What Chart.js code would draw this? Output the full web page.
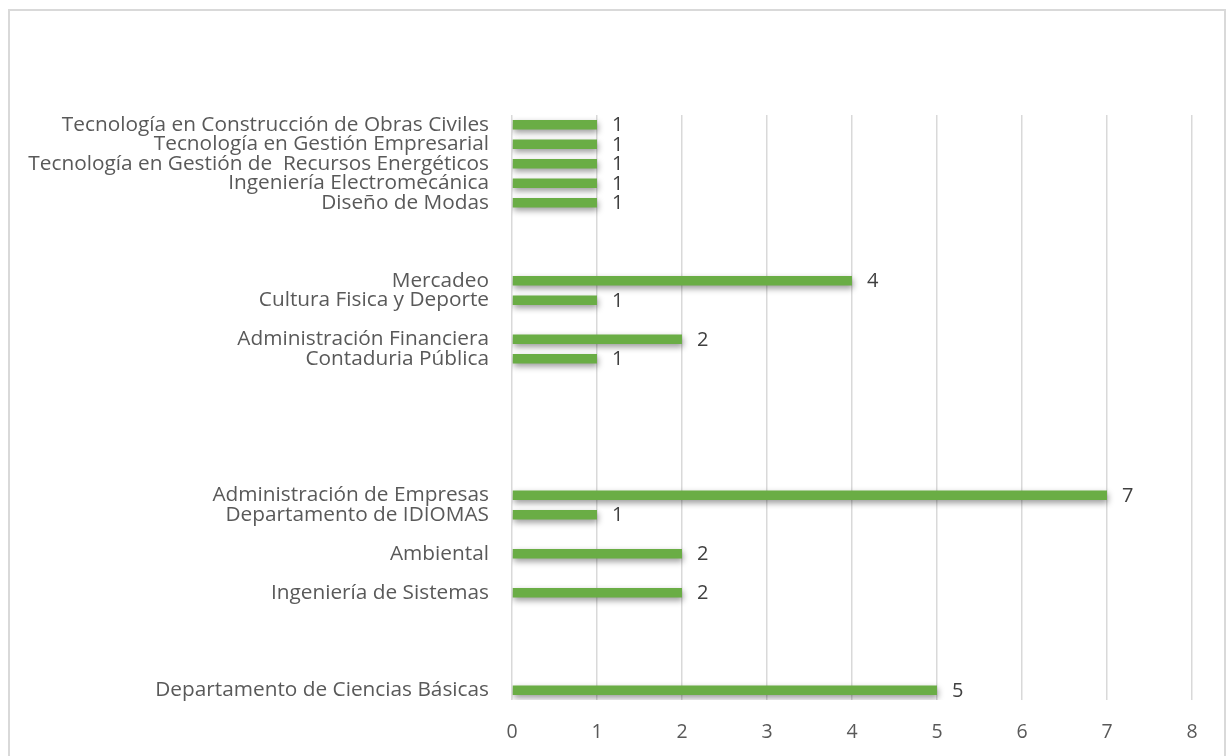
<!DOCTYPE html>
<html>
<head>
<meta charset="utf-8">
<script src="https://cdn.jsdelivr.net/npm/chart.js@4/dist/chart.umd.min.js"></script>
<style>
  html, body { margin: 0; padding: 0; background: #ffffff; }
  #wrap { position: relative; width: 1230px; height: 756px; }
  #frame { position: absolute; left: 8px; top: 9px; width: 1218px; height: 760px; border: 2px solid #d9d9d9; box-sizing: border-box; }
  canvas { position: absolute; left: 0; top: 0; }
</style>
</head>
<body>
<div id="wrap">
  <div id="frame"></div>
  <canvas id="c" width="1230" height="756"></canvas>
</div>
<script>
const categories = [
  "Tecnología en Construcción de Obras Civiles",
  "Tecnología en Gestión Empresarial",
  "Tecnología en Gestión de  Recursos Energéticos",
  "Ingeniería Electromecánica",
  "Diseño de Modas",
  "", "", "",
  "Mercadeo",
  "Cultura Fisica y Deporte",
  "",
  "Administración Financiera",
  "Contaduria Pública",
  "", "", "", "", "", "",
  "Administración de Empresas",
  "Departamento de IDIOMAS",
  "",
  "Ambiental",
  "",
  "Ingeniería de Sistemas",
  "", "", "", "",
  "Departamento de Ciencias Básicas"
];
const values = [
  1, 1, 1, 1, 1,
  null, null, null,
  4, 1,
  null,
  2, 1,
  null, null, null, null, null, null,
  7, 1,
  null,
  2,
  null,
  2,
  null, null, null, null,
  5
];
const xTicks = [0, 1, 2, 3, 4, 5, 6, 7, 8];

const FONT = "'Open Sans', 'Liberation Sans', sans-serif";

const shadowPlugin = {
  id: 'barShadow',
  beforeDatasetDraw(chart) {
    const ctx = chart.ctx;
    ctx.save();
    ctx.shadowColor = 'rgba(0,0,0,0.4)';
    ctx.shadowBlur = 6;
    ctx.shadowOffsetX = 1;
    ctx.shadowOffsetY = 3;
  },
  afterDatasetDraw(chart) {
    chart.ctx.restore();
  }
};

const labelPlugin = {
  id: 'valueLabels',
  afterDatasetsDraw(chart) {
    const ctx = chart.ctx;
    const meta = chart.getDatasetMeta(0);
    ctx.save();
    ctx.font = "20px " + FONT;
    ctx.fillStyle = '#404040';
    ctx.textAlign = 'left';
    ctx.textBaseline = 'middle';
    meta.data.forEach((el, i) => {
      const v = values[i];
      if (v === null || v === undefined) return;
      ctx.fillText(String(v), el.x + 15, el.y + 1);
    });
    ctx.restore();
  }
};

const ctx = document.getElementById('c');
new Chart(ctx, {
  type: 'bar',
  data: {
    labels: categories,
    datasets: [{
      data: values,
      backgroundColor: '#6aad45',
      borderWidth: 0,
      barPercentage: 0.92,
      categoryPercentage: 0.52
    }]
  },
  options: {
    indexAxis: 'y',
    responsive: false,
    animation: false,
    devicePixelRatio: 1,
    layout: { padding: { top: 115, right: 38, bottom: 0, left: 0 } },
    plugins: {
      legend: { display: false },
      tooltip: { enabled: false },
      title: { display: false }
    },
    scales: {
      x: {
        type: 'linear',
        min: 0,
        max: 8,
        afterBuildTicks(scale) { scale.ticks = xTicks.map(v => ({ value: v })); },
        grid: { color: '#d9d9d9', lineWidth: 1.5, drawTicks: false },
        border: { display: false },
        ticks: {
          color: '#595959',
          font: { family: FONT, size: 19.5 },
          padding: 21,
          callback: (v) => String(v)
        },
        afterFit(scale) { scale.height = 56; }
      },
      y: {
        grid: { display: false, drawTicks: false },
        border: { display: false },
        ticks: {
          autoSkip: false,
          color: '#595959',
          font: { family: FONT, size: 20.8, lineHeight: 1 },
          padding: 23
        },
        afterFit(scale) { scale.width = 512; }
      }
    }
  },
  plugins: [shadowPlugin, labelPlugin]
});
</script>
</body>
</html>
